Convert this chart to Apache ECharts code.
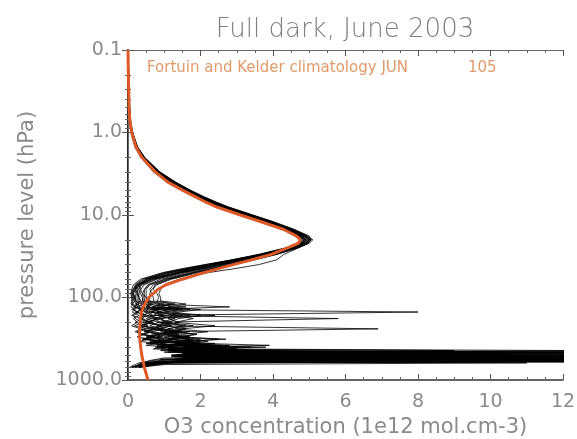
<!DOCTYPE html>
<html>
<head>
<meta charset="utf-8">
<script src="https://cdn.jsdelivr.net/npm/echarts@6/dist/echarts.min.js"></script>
<style>html,body{margin:0;padding:0;background:#fff;}#c{width:577px;height:439px;}</style>
</head>
<body>
<div id="c"></div>
<script>
// Shared pressure levels (hPa) for the individual profiles
const pLevels = [0.1,0.15,0.2,0.3,0.5,0.7,1,1.5,2,3,4,5,6,7,8,10,12,15,18,20,22,25,30,35,40,45,50,60,70,80,90,100,
  110,120,130,140,150,165,180,200,220,240,260,280,300,320,340,360,380,400,420,440,460,480,500,520,540,560,580,600,620,650,680,700];

// Individual ozone profiles (1e12 mol.cm-3)
const prof01 = [0,0,0.01,0.02,0.03,0.05,0.1,0.22,0.4,0.8,1.2,1.6,1.95,2.3,2.6,3.3,3.85,4.45,4.85,4.95,4.85,4.5,3.8,3.1,2.5,2.0,1.5,0.8,0.45,0.35,0.3,0.3,
  0.35,0.5,0.4,0.7,8.0,0.6,0.9,0.5,1.0,0.7,1.3,0.9,1.5,1.1,2.0,1.4,1.8,2.6,1.5,3.2,12.5,2.0,1.2,4.5,1.0,0.8,0.6,0.5,0.4,0.3,0.2,0.15];
const prof02 = [0,0.01,0.01,0.02,0.04,0.06,0.12,0.25,0.42,0.82,1.25,1.65,2.0,2.35,2.7,3.35,3.9,4.5,4.9,5.05,4.9,4.55,3.9,3.25,2.65,2.15,1.7,1.0,0.6,0.5,0.5,0.5,
  0.5,0.8,2.8,0.6,0.9,0.7,5.8,0.8,1.2,0.9,1.5,1.0,1.3,1.8,1.2,2.4,1.6,3.8,1.9,2.6,2.0,10.5,2.8,1.5,6.5,1.2,0.9,0.7,0.4,0.3,0.25,0.2];
const prof03 = [0,0,0.01,0.02,0.03,0.05,0.09,0.2,0.36,0.72,1.1,1.5,1.85,2.2,2.5,3.15,3.7,4.35,4.75,4.85,4.75,4.4,3.7,3.0,2.3,1.75,1.3,0.6,0.35,0.3,0.35,0.4,
  0.4,0.6,0.5,1.2,0.8,1.5,0.9,1.1,0.8,6.9,1.0,1.4,1.1,1.7,1.3,2.0,3.9,1.6,2.4,1.8,5.5,2.3,12.5,1.9,3.0,12.5,1.4,1.0,0.7,0.4,0.3,0.2];
const prof04 = [0,0.01,0.02,0.03,0.04,0.06,0.11,0.24,0.44,0.85,1.3,1.7,2.05,2.4,2.75,3.4,3.95,4.55,4.95,5.1,5.0,4.7,4.1,3.5,2.9,2.4,1.95,1.2,0.8,0.65,0.6,0.6,
  0.6,1.0,0.7,1.4,1.0,0.8,1.3,0.9,1.6,1.1,0.9,1.4,1.0,1.2,1.8,1.3,2.2,1.5,2.9,1.7,3.6,2.1,4.4,12.5,2.5,7.2,1.8,12.5,1.0,0.6,0.4,0.3];
const prof05 = [0,0,0.01,0.02,0.03,0.05,0.1,0.21,0.38,0.76,1.15,1.55,1.9,2.25,2.55,3.2,3.75,4.4,4.8,4.9,4.8,4.45,3.75,3.0,2.35,1.8,1.35,0.65,0.3,0.25,0.28,0.3,
  0.3,0.45,0.6,0.5,0.7,0.55,0.8,0.6,0.9,0.7,1.1,0.8,0.95,1.3,1.0,1.6,1.2,2.0,1.5,9.0,2.2,3.1,1.7,2.8,9.5,2.0,12.5,1.4,0.9,0.6,0.4,0.3];
const prof06 = [0,0.01,0.01,0.02,0.04,0.06,0.12,0.26,0.45,0.86,1.28,1.68,2.05,2.4,2.7,3.35,3.9,4.5,4.9,5.0,4.95,4.65,4.05,3.4,2.8,2.3,1.85,1.15,0.75,0.7,0.8,0.85,
  0.8,1.3,0.9,1.7,1.2,2.0,1.4,1.1,1.8,1.3,2.2,1.5,1.2,2.5,1.6,1.3,2.8,1.7,2.1,4.0,1.9,8.5,2.4,12.5,2.0,3.3,1.6,4.8,1.2,0.8,0.5,0.35];
const prof07 = [0,0,0.01,0.02,0.03,0.04,0.08,0.19,0.35,0.7,1.08,1.48,1.82,2.15,2.45,3.1,3.65,4.3,4.7,4.8,4.7,4.35,3.6,2.85,2.15,1.55,1.05,0.45,0.22,0.2,0.22,0.2,
  0.2,0.3,0.25,0.4,0.35,0.5,0.4,0.6,0.45,0.7,0.55,0.8,0.6,0.9,0.7,1.0,0.8,1.2,0.9,1.5,1.1,2.0,1.3,2.6,1.6,12.5,1.9,2.5,11.0,1.0,0.6,0.4];
const prof08 = [0,0.01,0.02,0.03,0.05,0.07,0.13,0.27,0.46,0.88,1.32,1.72,2.1,2.45,2.78,3.45,4.0,4.6,5.0,5.05,4.95,4.7,4.3,4.1,3.6,2.9,2.2,1.4,1.0,0.9,0.85,0.9,
  0.9,1.6,1.1,2.0,1.4,1.2,1.8,1.3,2.4,1.5,1.2,1.9,1.4,2.7,1.6,2.0,1.5,3.4,1.8,2.3,12.5,2.6,5.6,2.0,12.5,2.9,1.5,3.6,1.1,0.7,0.5,0.3];
const prof09 = [0,0,0.01,0.02,0.03,0.05,0.1,0.23,0.41,0.8,1.2,1.6,1.95,2.3,2.62,3.28,3.82,4.42,4.82,4.92,4.82,4.5,3.85,3.15,2.55,2.05,1.6,0.9,0.55,0.45,0.45,0.45,
  0.45,0.7,0.55,0.9,0.65,1.0,0.75,1.2,0.85,1.0,1.4,1.1,1.7,1.2,1.5,1.9,1.3,2.2,3.0,1.7,2.5,1.9,7.5,2.3,1.8,4.1,12.5,1.5,0.9,0.6,0.4,0.25];
const prof10 = [0,0,0.01,0.02,0.03,0.05,0.1,0.22,0.39,0.78,1.18,1.58,1.93,2.28,2.58,3.22,3.78,4.38,4.78,4.88,4.78,4.42,3.7,2.95,2.25,1.65,1.15,0.5,0.25,0.22,0.25,0.25,
  0.25,0.4,0.3,0.55,0.45,0.7,0.5,0.85,0.6,0.95,0.7,1.1,0.8,1.0,1.3,0.9,1.5,1.1,1.9,12.5,1.4,2.4,1.7,12.5,2.1,1.6,2.8,1.2,0.8,0.5,0.35,0.2];
const prof11 = [0,0.01,0.01,0.02,0.04,0.06,0.11,0.24,0.43,0.84,1.26,1.66,2.02,2.38,2.7,3.36,3.92,4.5,4.92,5.0,4.9,4.6,4.0,3.35,2.75,2.25,1.8,1.1,0.7,0.6,0.65,0.7,
  0.7,1.2,0.8,1.5,1.0,1.7,1.1,1.4,1.0,1.6,1.2,1.9,1.3,1.6,2.2,1.5,2.6,1.8,2.3,3.6,2.0,12.5,2.7,3.4,1.9,8.0,2.2,1.6,1.0,0.7,0.45,0.3];
const prof12 = [0,0,0.01,0.02,0.03,0.05,0.1,0.21,0.37,0.74,1.12,1.52,1.88,2.22,2.52,3.18,3.72,4.36,4.76,4.86,4.76,4.4,3.65,2.9,2.2,1.6,1.1,0.5,0.3,0.35,0.4,0.5,
  0.55,0.9,0.65,1.1,0.8,1.3,0.9,1.0,1.5,1.1,1.7,1.2,1.4,2.0,1.5,1.8,2.4,1.6,2.8,2.1,12.5,3.0,2.2,12.5,2.6,1.8,3.7,12.5,1.3,0.8,0.5,0.3];
const prof13 = [0,0,0.01,0.02,0.03,0.05,0.1,0.23,0.4,0.79,1.19,1.59,1.94,2.29,2.6,3.25,3.8,4.42,4.84,4.95,4.86,4.52,3.8,3.05,2.4,1.85,1.35,0.7,0.35,0.2,0.15,0.18,
  0.2,0.35,1.6,0.3,0.5,2.4,0.6,0.4,0.9,0.5,1.2,0.7,0.5,1.0,0.6,1.4,0.9,3.0,1.1,1.6,6.5,1.8,1.3,2.2,12.5,1.5,1.0,0.7,0.5,0.35,0.2,0.1];
const prof14 = [0,0.01,0.01,0.02,0.04,0.06,0.11,0.25,0.44,0.85,1.27,1.67,2.03,2.38,2.72,3.38,3.93,4.52,4.9,5.0,4.92,4.62,4.0,3.3,2.6,2.0,1.45,0.75,0.4,0.28,0.25,0.3,
  0.35,0.2,0.45,0.3,0.6,0.4,0.8,0.5,0.35,0.7,0.45,0.9,0.6,0.4,1.1,0.7,1.3,0.9,2.1,1.2,3.3,1.5,12.5,1.9,2.4,1.4,5.0,1.1,0.7,0.45,0.3,0.2];
const prof15 = [0,0,0.01,0.02,0.03,0.05,0.09,0.2,0.37,0.73,1.12,1.52,1.87,2.2,2.5,3.15,3.7,4.33,4.72,4.82,4.72,4.38,3.68,2.95,2.3,1.7,1.2,0.55,0.28,0.15,0.12,0.15,
  0.15,0.25,0.2,0.35,0.25,0.45,0.3,0.55,0.4,0.3,0.6,0.45,0.75,0.5,0.9,0.6,1.05,0.75,1.4,0.9,2.5,12.5,1.2,1.8,3.6,1.3,2.0,12.5,0.8,0.5,0.3,0.15];
const prof16 = [0,0.01,0.02,0.03,0.04,0.06,0.12,0.26,0.45,0.87,1.3,1.7,2.07,2.42,2.75,3.42,3.97,4.57,4.96,5.05,4.97,4.68,4.1,3.45,2.85,2.3,1.8,1.05,0.6,0.45,0.4,0.42,
  0.4,0.65,0.5,0.85,0.6,1.05,0.7,0.9,1.2,0.8,1.45,1.0,1.7,1.2,0.9,1.9,1.3,2.3,1.6,2.7,1.8,3.9,9.5,2.1,1.5,12.5,1.9,1.2,0.8,0.5,0.3,0.2];
const prof17 = [0,0,0.01,0.02,0.03,0.05,0.1,0.22,0.39,0.77,1.16,1.56,1.91,2.26,2.57,3.22,3.77,4.4,4.8,4.9,4.8,4.45,3.72,2.9,2.1,1.45,0.95,0.35,0.15,0.1,0.08,0.1,
  0.1,0.15,0.08,0.2,0.12,0.3,0.15,0.25,0.1,0.35,0.2,0.45,0.25,0.6,0.3,0.8,0.5,1.2,0.7,1.8,1.0,2.6,12.5,1.3,1.9,1.0,0.7,0.5,0.3,0.2,0.1,0.05];
const prof18 = [0,0.01,0.01,0.02,0.04,0.06,0.11,0.24,0.42,0.83,1.24,1.64,2.0,2.35,2.68,3.33,3.88,4.48,4.88,4.98,4.88,4.55,3.9,3.2,2.5,1.9,1.4,0.6,0.25,0.12,0.1,0.12,
  0.12,0.08,0.2,0.1,0.3,0.15,0.2,0.4,0.18,0.5,0.25,0.35,0.7,0.4,0.9,0.5,1.6,0.8,2.4,1.1,12.5,1.6,3.2,1.2,12.5,0.9,2.2,0.8,0.5,0.3,0.2,0.1];
const prof19 = [0,0,0.01,0.02,0.03,0.05,0.09,0.21,0.38,0.75,1.14,1.54,1.89,2.23,2.54,3.2,3.74,4.37,4.77,4.87,4.77,4.42,3.66,2.88,2.2,1.6,1.0,0.4,0.2,0.15,0.12,0.18,
  0.2,0.1,0.3,0.15,0.25,0.1,0.4,0.2,0.55,0.3,0.7,0.35,0.95,0.5,1.2,0.6,1.5,0.9,1.9,1.2,2.8,1.5,4.2,12.5,1.8,3.0,1.4,0.9,0.6,0.4,0.2,0.1];
const prof20 = [0,0.01,0.01,0.02,0.04,0.06,0.12,0.25,0.44,0.85,1.27,1.67,2.03,2.38,2.7,3.36,3.9,4.5,4.9,5.0,4.9,4.58,3.95,3.25,2.55,1.95,1.4,0.65,0.3,0.18,0.15,0.2,
  0.22,0.3,0.15,0.45,0.2,0.55,0.3,0.7,0.35,0.9,0.45,1.1,0.55,1.3,0.7,1.6,0.9,2.0,1.1,2.6,1.4,3.4,1.7,12.5,2.0,12.5,1.5,1.0,0.6,0.4,0.25,0.1];

// Fortuin and Kelder climatology, June
const climLevels = [0.1,0.2,0.3,0.5,0.7,1,1.5,2,3,4,5,6,7,8,10,12,15,18,20,22,25,30,35,40,50,60,70,80,100,130,150,200,300,400,500,700,1000];
const climValues = [0,0.01,0.02,0.03,0.05,0.1,0.22,0.38,0.75,1.1,1.5,1.85,2.15,2.45,3.1,3.65,4.3,4.65,4.75,4.7,4.4,3.95,3.4,2.9,2.1,1.5,1.05,0.82,0.57,0.42,0.37,0.33,0.32,0.35,0.38,0.45,0.55];

const xTicks = [0,2,4,6,8,10,12];
const titleText = 'Full dark, June 2003';
const legendText = 'Fortuin and Kelder climatology JUN';
const nProfilesText = '105';

const profiles = [prof01,prof02,prof03,prof04,prof05,prof06,prof07,prof08,prof09,prof10,
  prof11,prof12,prof13,prof14,prof15,prof16,prof17,prof18,prof19,prof20];
const FONT = 'DejaVu Sans';
const grey = '#8a8a8a';

const series = profiles.map(vals => ({
  type: 'line', showSymbol: false, symbol: 'none', silent: true,
  data: pLevels.map((p, i) => [vals[i], p]),
  lineStyle: { color: '#000', width: 1, opacity: 0.8 }, z: 2, clip: true
}));
series.push({
  type: 'line', showSymbol: false, symbol: 'none', silent: true,
  data: climLevels.map((p, i) => [climValues[i], p]),
  lineStyle: { color: '#dd5a28', width: 3 }, z: 5, clip: true
});

const chart = echarts.init(document.getElementById('c'), null, { renderer: 'canvas' });
const xBase = {
  type: 'value', min: xTicks[0], max: xTicks[xTicks.length - 1], interval: 2,
  splitLine: { show: false },
  axisTick: { inside: true, length: 6, lineStyle: { color: '#555' } },
  minorTick: { show: true, splitNumber: 4, length: 3, lineStyle: { color: '#666' } }
};
const yBase = {
  type: 'log', logBase: 10, min: 0.1, max: 1000, inverse: true,
  splitLine: { show: false },
  axisTick: { inside: true, length: 6, lineStyle: { color: '#555' } },
  minorTick: { show: true, splitNumber: 9, length: 3, lineStyle: { color: '#666' } }
};
chart.setOption({
  animation: false,
  backgroundColor: '#fff',
  grid: { left: 128, right: 14, top: 50, bottom: 59, containLabel: false, outerBoundsMode: 'none' },
  xAxis: [
    Object.assign({}, xBase, {
      position: 'bottom',
      axisLine: { show: true, lineStyle: { color: '#333', width: 1.5 } },
      axisLabel: { show: true, color: grey, fontFamily: FONT, fontSize: 19, margin: 13 },
      name: 'O3 concentration (1e12 mol.cm-3)', nameLocation: 'middle', nameGap: 26,
      nameTextStyle: { color: grey, fontFamily: FONT, fontSize: 21 }
    }),
    Object.assign({}, xBase, {
      position: 'top',
      axisLine: { show: true, lineStyle: { color: '#666', width: 1 } },
      axisLabel: { show: false }
    })
  ],
  yAxis: [
    Object.assign({}, yBase, {
      position: 'left',
      axisLine: { show: true, lineStyle: { color: '#222', width: 2 } },
      axisLabel: { show: true, color: grey, fontFamily: FONT, fontSize: 19, margin: 6,
        formatter: v => Number(v).toFixed(1) },
      name: 'pressure level (hPa)', nameLocation: 'middle', nameGap: 90,
      nameTextStyle: { color: grey, fontFamily: FONT, fontSize: 21 }
    }),
    Object.assign({}, yBase, {
      position: 'right',
      axisLine: { show: true, lineStyle: { color: '#666', width: 1 } },
      axisLabel: { show: false }
    })
  ],
  graphic: [
    { type: 'text', x: 345, y: 30, style: { text: titleText, fill: '#808080', font: '200 26px "DejaVu Sans"', align: 'center', verticalAlign: 'middle' } },
    { type: 'text', x: 147, y: 68, style: { text: legendText, fill: '#e29a6a', font: '15px "DejaVu Sans"', align: 'left', verticalAlign: 'middle' } },
    { type: 'text', x: 468, y: 68, style: { text: nProfilesText, fill: '#e29a6a', font: '15px "DejaVu Sans"', align: 'left', verticalAlign: 'middle' } }
  ],
  series: series
});
</script>
</body>
</html>
